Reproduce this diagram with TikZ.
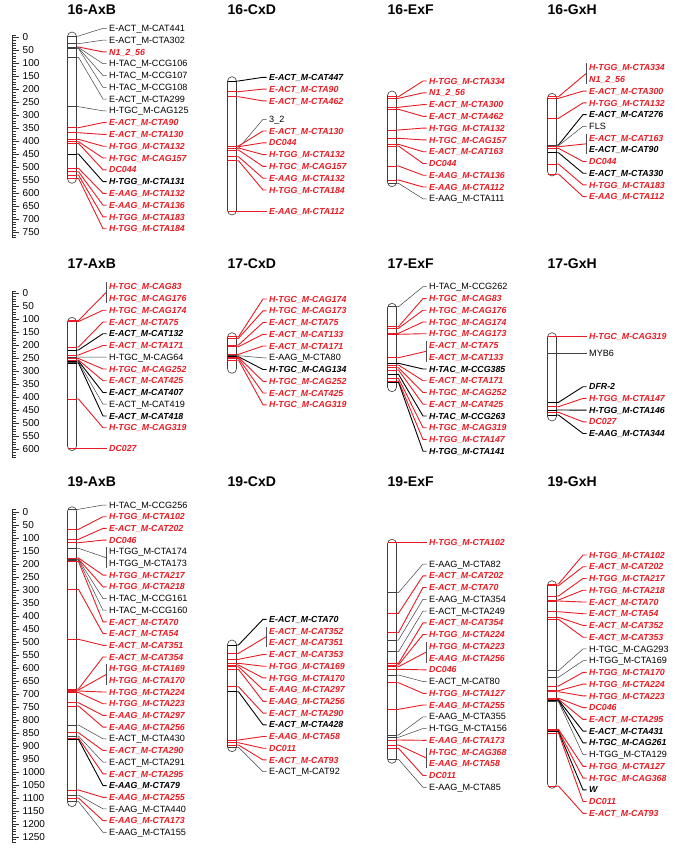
\documentclass[tikz,border=0pt]{standalone}
\usepackage{fontspec}
\setmainfont{Liberation Sans}
\usetikzlibrary{calc}
\definecolor{mapred}{RGB}{232,28,36}
\definecolor{rodgray}{RGB}{60,60,60}

% one linkage group: name, x centre, rod top, rod bottom, markers
% marker entry: position/label y/colour (r,b,g)/bar flag/text
\newcommand{\linkgroup}[5]{%
  \draw[rod] (#2-4.5,#3) rectangle (#2+4.5,#4);
  \foreach \m/\l/\s/\f/\t [count=\k] in {#5}{
    \node[lab\s] (#1-\k) at (#2+37,\l) {\t};
    \ifnum\f<2
      \coordinate (#1-m\k) at (#2+4.5,\m);
      \draw[con\s] (#2-4.5,\m) -- (#1-m\k);
      \ifnum\f=0
        \draw[con\s] (#1-m\k) -- ++(2,0) -- ([xshift=-6pt]#1-\k.west) -- ([xshift=-2.5pt]#1-\k.west);
      \else
        \coordinate (#1-b\k) at (#2+34,\l+5.87);
        \draw[bar] (#2+34,\l-4.5) -- (#2+34,\l+16.2);
        \draw[con\s] (#1-m\k) -- ++(2,0) -- (#1-b\k);
      \fi
    \fi
  }%
}

\begin{document}
\begin{tikzpicture}[x=1pt, y=-1pt,
    rod/.style={draw=rodgray, fill=white, line width=0.6pt, rounded corners=4.5pt},
    labbase/.style={anchor=west, inner sep=0pt, text height=6.3pt, text depth=0pt},
    labr/.style={labbase, font=\fontsize{8.8}{10}\selectfont\bfseries\itshape, text=mapred},
    labb/.style={labbase, font=\fontsize{8.8}{10}\selectfont\bfseries\itshape, text=black},
    labg/.style={labbase, font=\fontsize{9.1}{10}\selectfont, text=black},
    conr/.style={draw=mapred, line width=0.9pt},
    conb/.style={draw=black, line width=0.9pt},
    cong/.style={draw=black!75, line width=0.5pt},
    bar/.style={draw=black!70, line width=0.6pt},
    title/.style={anchor=west, inner sep=0pt, text height=10pt, text depth=0pt,
                  font=\fontsize{14}{16}\selectfont\bfseries},
    tick/.style={draw=black!80, line width=0.4pt},
    scalenum/.style={anchor=west, inner sep=0pt, font=\fontsize{10}{12}\selectfont}
  ]
  \useasboundingbox (0,0) rectangle (685,854);

  % titles
  \foreach \yr/\c in {9.5/16,263.5/17,481.7/19}
    \foreach \xc/\p in {67.5/AxB,227.5/CxD,387.5/ExF,547.5/GxH}
      \node[title] (t\c\p) at (\xc,\yr) {\c-\p};

  % scales
  \foreach \z/\n/\e [count=\r] in {37.5/750/770, 293.5/600/630, 511.7/1250/1270}{
    \draw[tick] (12,\z-2.6) -- (12,\z+\e*0.26);
    \foreach \v in {-10,0,...,\e}
      \draw[tick] (12,\z+\v*0.26) -- (15.5,\z+\v*0.26);
    \foreach \v in {0,50,...,\n}{
      \draw[tick] (12,\z+\v*0.26) -- (18.5,\z+\v*0.26);
      \node[scalenum] (sc\r-\v) at (22.5,\z+\v*0.26) {\v};
    }
  }

  % chromosome 16
  \linkgroup{c16AxB}{72}{32}{183.3}{
    36/28.3/g/0/E-ACT\_M-CAT441, 43.7/40.1/g/0/E-ACT\_M-CTA302,
    47/51.9/r/0/N1\_2\_56, 47.5/63.7/g/0/H-TAC\_M-CCG106,
    48/75.5/g/0/H-TAC\_M-CCG107, 48.5/87.3/g/0/H-TAC\_M-CCG108,
    57.3/99.0/g/0/E-ACT\_M-CTA299, 106.7/110.8/g/0/H-TGC\_M-CAG125,
    127.7/122.6/r/0/E-ACT\_M-CTA90, 132.7/134.4/r/0/E-ACT\_M-CTA130,
    139.3/146.2/r/0/H-TGG\_M-CTA132, 141.7/158.0/r/0/H-TGC\_M-CAG157,
    143.3/169.8/r/0/DC044, 154/181.6/b/0/H-TGG\_M-CTA131,
    168.3/193.4/r/0/E-AAG\_M-CTA132, 171.7/205.2/r/0/E-AAG\_M-CTA136,
    175/216.9/r/0/H-TGG\_M-CTA183, 178.3/228.7/r/0/H-TGG\_M-CTA184}
  \linkgroup{c16CxD}{232}{76.7}{215}{
    81/77.3/b/0/E-ACT\_M-CAT447, 91.7/89.1/r/0/E-ACT\_M-CTA90,
    96.7/100.9/r/0/E-ACT\_M-CTA462, 148.3/119.3/g/0/3\_2,
    146/131.0/r/0/E-ACT\_M-CTA130, 146.7/142.8/r/0/DC044,
    148/154.6/r/0/H-TGG\_M-CTA132, 150/166.4/r/0/H-TGC\_M-CAG157,
    156.7/178.2/r/0/E-AAG\_M-CTA132, 160.7/190.0/r/0/H-TGG\_M-CTA184,
    211.7/211.7/r/0/E-AAG\_M-CTA112}
  \linkgroup{c16ExF}{392}{91}{186.7}{
    96.7/81.0/r/0/H-TGG\_M-CTA334, 98.3/92.8/r/0/N1\_2\_56,
    107.3/104.6/r/0/E-ACT\_M-CTA300, 109.3/116.3/r/0/E-ACT\_M-CTA462,
    130/128.1/r/0/H-TGG\_M-CTA132, 138.3/139.9/r/0/H-TGC\_M-CAG157,
    144.3/151.7/r/0/E-ACT\_M-CAT163, 146/163.5/r/0/DC044,
    166/175.2/r/0/E-AAG\_M-CTA136, 180/187.0/r/0/E-AAG\_M-CTA112,
    183.3/198.8/g/0/E-AAG\_M-CTA111}
  \linkgroup{c16GxH}{552}{93.3}{176}{
    96.7/67.7/r/1/H-TGG\_M-CTA334, 0/79.4/r/2/N1\_2\_56,
    98.3/91.1/r/0/E-ACT\_M-CTA300, 118.3/102.9/r/0/H-TGG\_M-CTA132,
    145/114.6/b/0/E-ACT\_M-CAT276, 145.7/126.3/g/0/FLS,
    146.7/138.0/r/1/E-ACT\_M-CAT163, 0/149.7/b/2/E-ACT\_M-CAT90,
    148.3/161.5/r/0/DC044, 152.7/173.2/b/0/E-ACT\_M-CTA330,
    164/184.9/r/0/H-TGG\_M-CTA183, 174/196.6/r/0/E-AAG\_M-CTA112}

  % chromosome 17
  \linkgroup{c17AxB}{72}{317.3}{450.7}{
    320.5/286.7/r/1/H-TGC\_M-CAG83, 0/298.5/r/2/H-TGC\_M-CAG176,
    321.5/310.2/r/0/H-TGC\_M-CAG174, 347/322.0/r/0/E-ACT\_M-CTA75,
    350/333.7/b/0/E-ACT\_M-CAT132, 355/345.5/r/0/E-ACT\_M-CTA171,
    357/357.2/g/0/H-TGC\_M-CAG64, 358.5/369.0/r/0/H-TGC\_M-CAG252,
    360/380.7/r/0/E-ACT\_M-CAT425, 361/392.5/b/0/E-ACT\_M-CAT407,
    362/404.2/g/0/E-ACT\_M-CAT419, 363/416.0/b/0/E-ACT\_M-CAT418,
    399/427.7/r/0/H-TGC\_M-CAG319, 448.3/448.3/r/0/DC027}
  \linkgroup{c17CxD}{232}{332.7}{373.3}{
    336.7/299.0/r/0/H-TGC\_M-CAG174, 338.3/310.8/r/0/H-TGC\_M-CAG173,
    345/322.5/r/0/E-ACT\_M-CTA75, 346.7/334.3/r/0/E-ACT\_M-CAT133,
    354.3/346.0/r/0/E-ACT\_M-CTA171, 355.7/357.8/g/0/E-AAG\_M-CTA80,
    356.7/369.5/b/0/H-TGC\_M-CAG134, 357.3/381.3/r/0/H-TGC\_M-CAG252,
    358.3/393.0/r/0/E-ACT\_M-CAT425, 360/404.8/r/0/H-TGC\_M-CAG319}
  \linkgroup{c17ExF}{392}{303.3}{391.7}{
    306.7/286.7/g/0/H-TAC\_M-CCG262, 326.7/298.5/r/0/H-TGC\_M-CAG83,
    328.3/310.2/r/0/H-TGC\_M-CAG176, 333.3/322.0/r/0/H-TGC\_M-CAG174,
    334.3/333.7/r/0/H-TGC\_M-CAG173, 357.7/345.5/r/1/E-ACT\_M-CTA75,
    0/357.2/r/2/E-ACT\_M-CAT133, 363.3/369.0/b/0/H-TAC\_M-CCG385,
    365/380.7/r/0/E-ACT\_M-CTA171, 367.7/392.5/r/0/H-TGC\_M-CAG252,
    370/404.2/r/0/E-ACT\_M-CAT425, 374.3/416.0/b/0/H-TAC\_M-CCG263,
    378.3/427.7/r/0/H-TGC\_M-CAG319, 381/439.5/r/0/H-TGG\_M-CTA147,
    382.3/451.2/b/0/H-TGG\_M-CTA141}
  \linkgroup{c17GxH}{552}{332.7}{421}{
    336.7/336.7/r/0/H-TGC\_M-CAG319, 353.3/353.3/g/0/MYB6,
    402.3/386.7/b/0/DFR-2, 406.7/398.4/r/0/H-TGG\_M-CTA147,
    410/410.1/b/0/H-TGG\_M-CTA146, 412.3/421.8/r/0/DC027,
    415/433.5/b/0/E-AAG\_M-CTA344}

  % chromosome 19
  \linkgroup{c19AxB}{72}{506.7}{806.7}{
    509.3/505.0/g/0/H-TAC\_M-CCG256, 529.3/516.7/r/0/H-TGG\_M-CTA102,
    539.3/528.4/r/0/E-ACT\_M-CAT202, 542.7/540.1/r/0/DC046,
    548.3/551.8/g/1/H-TGG\_M-CTA174, 0/563.5/g/2/H-TGG\_M-CTA173,
    558/575.1/r/0/H-TGG\_M-CTA217, 559/586.8/r/0/H-TGG\_M-CTA218,
    559.5/598.5/g/0/H-TAC\_M-CCG161, 560/610.2/g/0/H-TAC\_M-CCG160,
    561.5/621.9/r/0/E-ACT\_M-CTA70, 589.3/633.6/r/0/E-ACT\_M-CTA54,
    639.3/645.3/r/0/E-ACT\_M-CAT351, 689/657.0/r/0/E-ACT\_M-CAT354,
    690/668.7/r/1/H-TGG\_M-CTA169, 0/680.4/r/2/H-TGG\_M-CTA170,
    691/692.0/r/0/H-TGG\_M-CTA224, 692.5/703.7/r/0/H-TGG\_M-CTA223,
    702.7/715.4/r/0/E-AAG\_M-CTA297, 706/727.1/r/0/E-AAG\_M-CTA256,
    725/738.8/g/0/E-ACT\_M-CTA430, 732.7/750.5/r/0/E-ACT\_M-CTA290,
    736/762.2/g/0/E-ACT\_M-CTA291, 738/773.9/r/0/E-ACT\_M-CTA295,
    739.5/785.6/b/0/E-AAG\_M-CTA79, 790/797.3/r/0/E-AAG\_M-CTA255,
    795/808.9/g/0/E-AAG\_M-CTA440, 798/820.6/r/0/E-AAG\_M-CTA173,
    801.5/832.3/g/0/E-AAG\_M-CTA155}
  \linkgroup{c19CxD}{232}{640}{751.7}{
    645/619.3/b/0/E-ACT\_M-CTA70, 653.3/631.0/r/1/E-ACT\_M-CAT352,
    0/642.7/r/2/E-ACT\_M-CAT351, 659.3/654.5/r/0/E-ACT\_M-CAT353,
    663.3/666.2/r/0/H-TGG\_M-CTA169, 665/677.9/r/0/H-TGG\_M-CTA170,
    666.7/689.6/r/0/E-AAG\_M-CTA297, 669.3/701.3/r/0/E-AAG\_M-CTA256,
    686.7/713.1/r/0/E-ACT\_M-CTA290, 691.7/724.8/b/0/E-ACT\_M-CTA428,
    740/736.5/r/0/E-AAG\_M-CTA58, 742.7/748.2/r/0/DC011,
    745/759.9/r/0/E-ACT\_M-CAT93, 747.3/771.7/g/0/E-ACT\_M-CAT92}
  \linkgroup{c19ExF}{392}{539.3}{763.3}{
    542.7/542.7/r/0/H-TGG\_M-CTA102, 592.7/564.0/g/0/E-AAG\_M-CTA82,
    613.3/575.8/r/0/E-ACT\_M-CAT202, 632.7/587.5/r/0/E-ACT\_M-CTA70,
    640/599.3/g/0/E-AAG\_M-CTA354, 651.7/611.0/g/0/E-ACT\_M-CTA249,
    663.3/622.8/r/0/E-ACT\_M-CAT354, 665/634.5/r/0/H-TGG\_M-CTA224,
    666.7/646.3/r/1/H-TGG\_M-CTA223, 0/658.0/r/2/E-AAG\_M-CTA256,
    669.3/669.8/r/0/DC046, 675/681.5/g/0/E-ACT\_M-CAT80,
    682.7/693.3/r/0/H-TGG\_M-CTA127, 709.3/705.0/r/0/E-AAG\_M-CTA255,
    735/716.8/g/0/E-AAG\_M-CTA355, 737.3/728.5/g/0/H-TGG\_M-CTA156,
    740/740.3/r/0/E-AAG\_M-CTA173, 745/752.0/r/1/H-TGC\_M-CAG368,
    0/763.8/r/2/E-AAG\_M-CTA58, 748.3/775.5/r/0/DC011,
    759.3/787.3/g/0/E-AAG\_M-CTA85}
  \linkgroup{c19GxH}{552}{580.7}{788.3}{
    584/555.0/r/0/H-TGG\_M-CTA102, 585.7/566.7/r/0/E-ACT\_M-CAT202,
    596/578.5/r/0/H-TGG\_M-CTA217, 600/590.2/r/0/H-TGG\_M-CTA218,
    601/602.0/r/0/E-ACT\_M-CTA70, 611.7/613.7/r/0/E-ACT\_M-CTA54,
    617.3/625.4/r/0/E-ACT\_M-CAT352, 619.3/637.2/r/0/E-ACT\_M-CAT353,
    670.7/648.9/g/0/H-TGC\_M-CAG293, 677.3/660.7/g/0/H-TGG\_M-CTA169,
    686/672.4/r/0/H-TGG\_M-CTA170, 690.7/684.1/r/0/H-TGG\_M-CTA224,
    691.7/695.9/r/0/H-TGG\_M-CTA223, 698.3/707.6/r/0/DC046,
    699.3/719.4/r/0/E-ACT\_M-CTA295, 700/731.1/b/0/E-ACT\_M-CTA431,
    700.7/742.8/b/0/H-TGC\_M-CAG261, 701.7/754.6/g/0/H-TGG\_M-CTA129,
    729.3/766.3/r/0/H-TGG\_M-CTA127, 730.5/778.1/r/0/H-TGC\_M-CAG368,
    731.5/789.8/b/0/W, 733/801.5/r/0/DC011,
    786/813.3/r/0/E-ACT\_M-CAT93}
\end{tikzpicture}
\end{document}
